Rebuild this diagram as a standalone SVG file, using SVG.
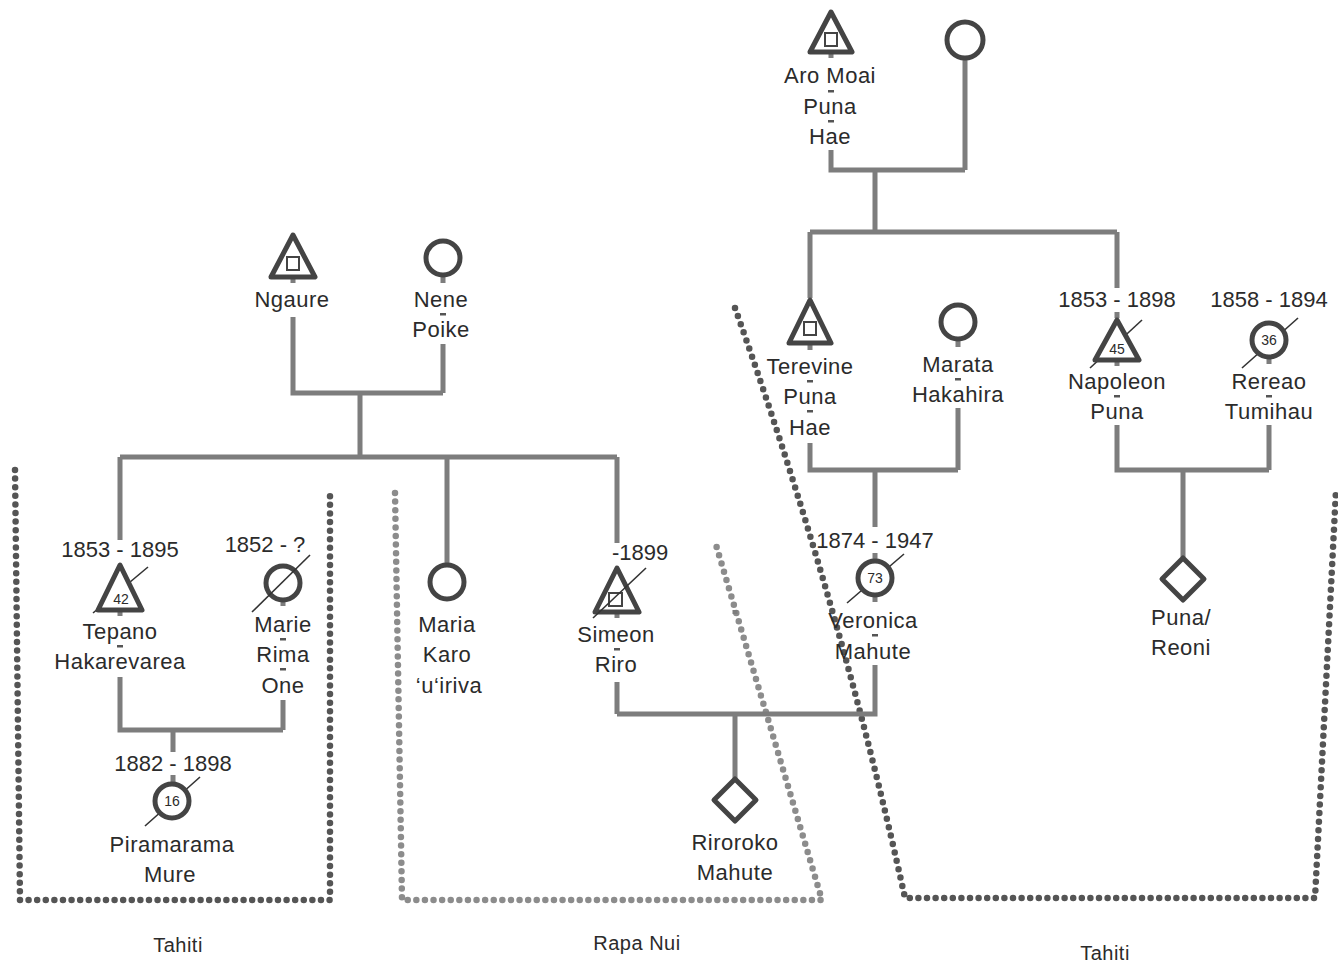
<svg xmlns="http://www.w3.org/2000/svg" width="1338" height="965" viewBox="0 0 1338 965">
<defs>
<style>
text{font-family:"Liberation Sans",Arial,sans-serif;fill:#2b2b2b;text-anchor:middle}
.t{font-size:22px;letter-spacing:0.5px}
.d{font-size:22px}
.n{font-size:14px}
.lb{font-size:20px;letter-spacing:0.5px}
.c{stroke:#7d7d7d;stroke-width:5;fill:none}
.dash{fill:#555}
.s{stroke:#444;stroke-width:5;fill:#fff;stroke-linejoin:round}
.sl{stroke:#333;stroke-width:1.6}
.dt{fill:none;stroke-width:6.5;stroke-linecap:round;stroke-dasharray:0 8.6}
</style>
</defs>
<rect width="1338" height="965" fill="#fff"/>
<g id="regions">
<path class="dt" stroke="#555" d="M15,470 L20,900 L330,900 L330,490"/>
<path class="dt" stroke="#8c8c8c" d="M395,493 L402,900 L822,900 L716,545"/>
<path class="dt" stroke="#555" d="M735,308 Q840,603 905,898 L1315,898 L1336,490"/>
</g>
<g id="connectors">
<path class="c" d="M831,150 V170 H965 M965,58 V170 M875,170 V232 M810,232 H1117 M810,232 V298 M810,443 V470 H958 M958,339 V347 M958,408 V470 M875,470 V527 M875,553 V561 M875,665 V714 H617 M735,714 V779 M1117,232 V288 M1117,312 V318 M1117,425 V470 H1269 M1269,425 V470 M1183,470 V557 M293,317 V393 H443 M443,344 V393 M360,393 V457 M120,457 H617 M120,457 V540 M120,677 V730 H283 M283,700 V730 M173,730 V752 M173,775 V784 M447,457 V565 M617,457 V543 M617,682 V714 M831,52 V58 M810,343 V350 M1117,360 V366 M1269,357 V364 M293,277 V283 M443,275 V283 M120,610 V616 M283,600 V606 M875,595 V602 M617,612 V618 M735,610 V614"/>
<rect class="dash" x="828" y="90" width="6" height="2.5"/>
<rect class="dash" x="828" y="120" width="6" height="2.5"/>
<rect class="dash" x="807" y="380" width="6" height="2.5"/>
<rect class="dash" x="807" y="410" width="6" height="2.5"/>
<rect class="dash" x="955" y="378" width="6" height="2.5"/>
<rect class="dash" x="872" y="634" width="6" height="2.5"/>
<rect class="dash" x="1114" y="395" width="6" height="2.5"/>
<rect class="dash" x="1266" y="395" width="6" height="2.5"/>
<rect class="dash" x="440" y="313" width="6" height="2.5"/>
<rect class="dash" x="117" y="645" width="6" height="2.5"/>
<rect class="dash" x="280" y="638" width="6" height="2.5"/>
<rect class="dash" x="280" y="668" width="6" height="2.5"/>
<rect class="dash" x="614" y="648" width="6" height="2.5"/>
</g>
<g id="aro-moai">
<path class="s" d="M831,12 L852,52 L810,52 Z"/>
<rect x="825" y="33" width="12" height="13" fill="none" stroke="#444" stroke-width="2"/>
<text class="t" x="830" y="83">Aro Moai</text>
<text class="t" x="830" y="114">Puna</text>
<text class="t" x="830" y="144">Hae</text>
</g>
<g id="wife-aro">
<circle class="s" cx="965" cy="40" r="18"/>
</g>
<g id="terevine">
<path class="s" d="M810,300 L831,343 L789,343 Z"/>
<rect x="804" y="322" width="12" height="13" fill="none" stroke="#444" stroke-width="2"/>
<text class="t" x="810" y="374">Terevine</text>
<text class="t" x="810" y="404">Puna</text>
<text class="t" x="810" y="435">Hae</text>
</g>
<g id="marata">
<circle class="s" cx="958" cy="322" r="17"/>
<text class="t" x="958" y="372">Marata</text>
<text class="t" x="958" y="402">Hakahira</text>
</g>
<g id="napoleon">
<text class="d" x="1117" y="307">1853 - 1898</text>
<line class="sl" x1="1090" y1="368" x2="1142" y2="320"/>
<path class="s" d="M1117,320 L1139,360 L1095,360 Z"/>
<text class="n" x="1117" y="354">45</text>
<text class="t" x="1117" y="389">Napoleon</text>
<text class="t" x="1117" y="419">Puna</text>
</g>
<g id="rereao">
<text class="d" x="1269" y="307">1858 - 1894</text>
<line class="sl" x1="1242" y1="368" x2="1298" y2="318"/>
<circle class="s" cx="1269" cy="340" r="17"/>
<text class="n" x="1269" y="345">36</text>
<text class="t" x="1269" y="389">Rereao</text>
<text class="t" x="1269" y="419">Tumihau</text>
</g>
<g id="puna-reoni">
<path class="s" d="M1183,558 L1204,579 L1183,600 L1162,579 Z"/>
<text class="t" x="1181" y="625">Puna/</text>
<text class="t" x="1181" y="655">Reoni</text>
</g>
<g id="veronica">
<text class="d" x="875" y="548">1874 - 1947</text>
<line class="sl" x1="847" y1="603" x2="904" y2="554"/>
<circle class="s" cx="875" cy="578" r="17"/>
<text class="n" x="875" y="583">73</text>
<text class="t" x="873" y="628">Veronica</text>
<text class="t" x="873" y="659">Mahute</text>
</g>
<g id="riroroko">
<path class="s" d="M735,779 L756,800 L735,821 L714,800 Z"/>
<text class="t" x="735" y="850">Riroroko</text>
<text class="t" x="735" y="880">Mahute</text>
</g>
<g id="ngaure">
<path class="s" d="M293,235 L315,277 L271,277 Z"/>
<rect x="287" y="257" width="12" height="13" fill="none" stroke="#444" stroke-width="2"/>
<text class="t" x="292" y="307">Ngaure</text>
</g>
<g id="nene">
<circle class="s" cx="443" cy="258" r="17"/>
<text class="t" x="441" y="307">Nene</text>
<text class="t" x="441" y="337">Poike</text>
</g>
<g id="tepano">
<text class="d" x="120" y="557">1853 - 1895</text>
<line class="sl" x1="93" y1="613" x2="148" y2="567"/>
<path class="s" d="M120,565 L142,610 L98,610 Z"/>
<text class="n" x="121" y="604">42</text>
<text class="t" x="120" y="639">Tepano</text>
<text class="t" x="120" y="669">Hakarevarea</text>
</g>
<g id="marie">
<text class="d" x="265" y="552">1852 - ?</text>
<circle class="s" cx="283" cy="583" r="17"/>
<line class="sl" x1="252" y1="612" x2="310" y2="555"/>
<text class="t" x="283" y="632">Marie</text>
<text class="t" x="283" y="662">Rima</text>
<text class="t" x="283" y="693">One</text>
</g>
<g id="piramarama">
<text class="d" x="173" y="771">1882 - 1898</text>
<line class="sl" x1="145" y1="826" x2="200" y2="777"/>
<circle class="s" cx="172" cy="801" r="17"/>
<text class="n" x="172" y="806">16</text>
<text class="t" x="172" y="852">Piramarama</text>
<text class="t" x="170" y="882">Mure</text>
</g>
<g id="maria">
<circle class="s" cx="447" cy="582" r="17"/>
<text class="t" x="447" y="632">Maria</text>
<text class="t" x="447" y="662">Karo</text>
<text class="t" x="449" y="693">‘u‘iriva</text>
</g>
<g id="simeon">
<text class="d" x="612" y="560" style="text-anchor:start">-1899</text>
<path class="s" d="M617,568 L639,612 L595,612 Z"/>
<rect x="609" y="593" width="13" height="13" fill="none" stroke="#444" stroke-width="2"/>
<line class="sl" x1="593" y1="618" x2="646" y2="568"/>
<text class="t" x="616" y="642">Simeon</text>
<text class="t" x="616" y="672">Riro</text>
</g>
<g id="labels">
<text class="lb" x="178" y="952">Tahiti</text>
<text class="lb" x="637" y="950">Rapa Nui</text>
<text class="lb" x="1105" y="960">Tahiti</text>
</g>
</svg>
